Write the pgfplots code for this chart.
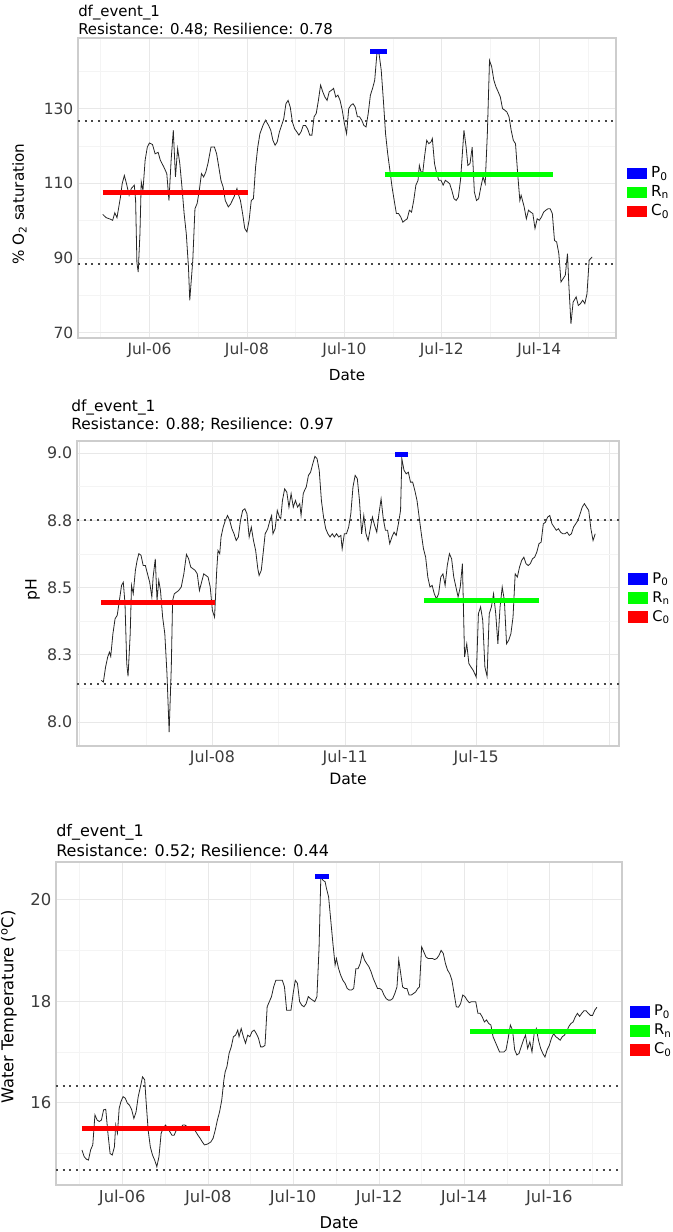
\documentclass[border=0pt]{standalone}
\usepackage{fontspec}
\setmainfont{DejaVu Sans}
\usepackage{pgfplots}
\pgfplotsset{compat=1.18}
\definecolor{pblue}{RGB}{0,0,255}
\definecolor{pgreen}{RGB}{0,255,0}
\definecolor{pred}{RGB}{255,0,0}
\definecolor{gridmaj}{RGB}{232,232,232}
\definecolor{gridmin}{RGB}{244,244,244}
\definecolor{bord}{RGB}{205,205,205}
\definecolor{tickc}{RGB}{60,60,60}
\pgfplotsset{
 panel/.style={
  scale only axis, anchor=south west,
  axis line style={draw=bord, line width=0.9pt},
  grid=both,
  major grid style={draw=gridmaj, line width=0.6pt},
  minor grid style={draw=gridmin, line width=0.45pt},
  major tick length=0pt, minor tick length=0pt,
  tick label style={text=tickc},
  legend style={draw=none, fill=none, at={(1,0.5)}, anchor=west, yshift=-3.5pt, row sep=1.6pt, inner sep=0pt, nodes={inner sep=0.8pt, text height=8.5pt, text depth=2.5pt}},
  legend cell align=left,
  legend image code/.code={\fill[##1] (0pt,-2.4pt) rectangle (11.25pt,2.4pt); \path (13.8pt,0pt);},
 },
 dat/.style={color=black!85, line width=0.6pt, mark=none},
 seg/.style={line width=3.8pt, mark=none},
 dotl/.style={color=black!72, line width=1.5pt, dash pattern=on 1.5pt off 3.5pt, mark=none},
}
\begin{document}
\begin{tikzpicture}
\useasboundingbox (0,0) rectangle (504.75pt,924pt);
% ---------------- Panel 1 ----------------
\begin{axis}[panel, at={(58.5pt,670.5pt)}, width=403.5pt, height=225pt,
 xmin=180, xmax=1422, ymin=68.6, ymax=148.9,
 xtick={345,570,795,1020,1245}, xticklabels={Jul-06,Jul-08,Jul-10,Jul-12,Jul-14},
 minor xtick={232.5,457.5,682.5,907.5,1132.5,1357.5},
 ytick={70,90,110,130}, yticklabels={70,90,110,130}, minor ytick={80,100,120,140},
 tick label style={font=\fontsize{11.6}{13.5}\selectfont},
 legend style={font=\fontsize{11.4}{13.5}\selectfont, xshift=7.75pt}]
\addplot[dat, forget plot] coordinates {(237,101.7)(245,100.8)(255,100.4)(260,100.1)(265,102.1)(270,100.8)(278,106.3)(282,109.9)(287,112.1)(292,109.9)(298,106.8)(303,108.6)(310,109.5)(313,105.4)(316,88.75)(319,86.25)(323,96.5)(326,110.4)(330,108.1)(335,116.2)(340,119.7)(345,120.8)(352,120.4)(358,117.9)(365,118.3)(370,116.2)(378,114.4)(385,112.6)(390,105.4)(395,116.2)(400,124.2)(405,111.7)(410,119.3)(415,115.3)(420,109.0)(425,101.9)(430,96.5)(435,87.6)(438,78.7)(445,89.4)(450,103.2)(455,104.6)(460,108.1)(465,112.6)(470,111.7)(475,113.0)(480,115.3)(487,119.7)(495,119.7)(500,117.9)(505,114.4)(510,110.8)(515,109.0)(520,105.4)(527,103.7)(532,104.4)(540,106.3)(547,108.6)(550,107.2)(555,105.4)(560,101.9)(565,97.9)(570,97.0)(575,100.1)(580,105.4)(585,105.9)(590,114.4)(595,119.7)(600,123.3)(607,125.5)(613,126.9)(620,125.5)(625,124.2)(630,121.5)(635,120.2)(640,121.1)(645,123.8)(650,125.5)(655,127.3)(660,131.3)(665,132.2)(670,130.4)(675,126.4)(680,124.6)(685,123.8)(690,122.9)(695,123.8)(700,125.5)(705,125.5)(710,124.6)(715,122.9)(720,122.9)(725,127.8)(730,128.7)(735,132.2)(740,136.3)(745,134.5)(750,133.1)(755,132.2)(760,134.5)(765,134.9)(770,135.4)(775,133.1)(780,133.6)(785,132.2)(790,129.6)(795,126.0)(800,123.3)(805,130.0)(810,130.9)(815,131.3)(820,130.4)(825,127.8)(830,127.8)(835,126.9)(840,125.5)(845,125.1)(850,128.7)(855,133.6)(860,135.4)(865,137.6)(870,144.7)(875,144.7)(880,140.3)(885,132.2)(890,123.3)(895,117.9)(900,113.5)(905,109.0)(910,105.4)(915,101.9)(920,101.9)(925,101.0)(930,99.6)(935,100.1)(940,100.5)(945,102.8)(950,102.3)(955,105.4)(960,109.5)(965,110.8)(968,114.8)(972,113.0)(976,113.0)(980,117.1)(985,121.5)(990,120.6)(995,121.1)(998,122.0)(1003,115.3)(1008,112.6)(1013,110.8)(1018,110.8)(1023,109.5)(1028,110.8)(1033,110.4)(1038,109.9)(1043,108.1)(1048,105.9)(1053,105.4)(1058,106.3)(1063,110.8)(1066,115.7)(1071,124.2)(1076,119.7)(1080,114.8)(1085,115.3)(1090,119.7)(1095,107.7)(1100,105.4)(1105,105.9)(1110,109.0)(1115,111.7)(1120,109.9)(1125,123.3)(1130,142.9)(1135,141.2)(1140,137.6)(1145,135.8)(1150,134.5)(1155,133.1)(1160,130.0)(1165,129.6)(1170,129.1)(1175,127.8)(1180,124.2)(1185,121.5)(1190,120.6)(1195,112.6)(1200,105.4)(1203,106.8)(1210,103.7)(1215,100.5)(1220,102.8)(1225,102.3)(1230,101.9)(1235,97.9)(1240,100.5)(1245,100.1)(1250,101.0)(1255,102.3)(1260,102.8)(1265,103.2)(1270,103.2)(1275,101.9)(1280,94.7)(1285,94.3)(1290,91.2)(1295,83.6)(1300,84.5)(1305,85.4)(1310,91.2)(1313,83.1)(1318,72.4)(1323,78.2)(1330,79.6)(1335,77.3)(1340,77.8)(1345,78.7)(1350,77.8)(1355,80.4)(1360,89.4)(1367,90.3)};
\addplot[dotl, forget plot] coordinates {(180,126.7)(1422,126.7)};
\addplot[dotl, forget plot] coordinates {(180,88.5)(1422,88.5)};
\addplot[seg, color=pblue] coordinates {(855,145.4)(893,145.4)};
\addlegendentry{P\textsubscript{0}}
\addplot[seg, color=pgreen] coordinates {(888,112.3)(1277,112.3)};
\addlegendentry{R\textsubscript{n}}
\addplot[seg, color=pred] coordinates {(237,107.6)(573,107.6)};
\addlegendentry{C\textsubscript{0}}
\end{axis}
% ---------------- Panel 2 ----------------
\begin{axis}[panel, at={(57.75pt,364.5pt)}, width=406.5pt, height=228.75pt,
 xmin=177, xmax=1430, ymin=7.911, ymax=9.045,
 xtick={183,490,797,1100,1408}, xticklabels={,Jul-08,Jul-11,Jul-15,},
 minor xtick={337,643,950,1254},
 ytick={8,8.25,8.5,8.75,9}, yticklabels={8.0,8.3,8.5,8.8,9.0}, minor ytick={8.125,8.375,8.625,8.875},
 tick label style={font=\fontsize{11.9}{13.9}\selectfont},
 legend style={font=\fontsize{11}{13}\selectfont, xshift=6.5pt}]
\addplot[dat, forget plot] coordinates {(233,8.155)(238,8.149)(243,8.204)(248,8.242)(252,8.260)(255,8.244)(260,8.328)(265,8.384)(270,8.397)(275,8.452)(280,8.508)(284,8.520)(288,8.440)(292,8.217)(295,8.170)(300,8.328)(303,8.508)(307,8.477)(312,8.564)(316,8.601)(320,8.626)(325,8.620)(330,8.582)(335,8.582)(340,8.551)(345,8.520)(350,8.465)(353,8.539)(358,8.607)(362,8.452)(366,8.527)(370,8.489)(375,8.390)(380,8.328)(385,8.180)(390,7.963)(395,8.204)(398,8.452)(402,8.477)(407,8.483)(412,8.489)(418,8.502)(424,8.551)(430,8.623)(435,8.607)(440,8.576)(445,8.570)(450,8.564)(455,8.551)(460,8.489)(465,8.520)(470,8.551)(475,8.545)(480,8.539)(485,8.502)(490,8.415)(495,8.390)(500,8.564)(503,8.638)(507,8.626)(510,8.688)(515,8.725)(520,8.750)(525,8.768)(530,8.750)(535,8.719)(540,8.700)(545,8.675)(550,8.688)(555,8.750)(560,8.787)(565,8.793)(570,8.774)(575,8.688)(580,8.725)(585,8.675)(590,8.638)(595,8.570)(598,8.545)(603,8.564)(608,8.638)(612,8.700)(618,8.719)(623,8.750)(627,8.768)(630,8.700)(635,8.719)(640,8.787)(645,8.762)(648,8.756)(652,8.824)(657,8.867)(662,8.855)(667,8.799)(672,8.849)(677,8.799)(682,8.824)(687,8.799)(692,8.812)(695,8.768)(700,8.849)(703,8.861)(707,8.874)(712,8.917)(717,8.929)(722,8.960)(727,8.988)(732,8.979)(737,8.936)(742,8.824)(747,8.762)(752,8.719)(757,8.700)(762,8.688)(767,8.700)(772,8.688)(777,8.700)(782,8.688)(787,8.694)(790,8.644)(795,8.700)(800,8.700)(805,8.725)(810,8.774)(815,8.874)(820,8.917)(825,8.905)(830,8.824)(835,8.700)(840,8.768)(845,8.700)(850,8.675)(855,8.719)(860,8.762)(865,8.731)(870,8.706)(875,8.774)(880,8.830)(885,8.756)(890,8.713)(895,8.713)(900,8.663)(905,8.688)(910,8.706)(915,8.694)(920,8.737)(925,8.787)(928,8.979)(933,8.936)(938,8.923)(943,8.929)(948,8.892)(953,8.892)(958,8.861)(963,8.824)(968,8.762)(973,8.700)(978,8.644)(983,8.613)(988,8.539)(993,8.502)(998,8.508)(1003,8.477)(1008,8.458)(1013,8.477)(1018,8.539)(1023,8.551)(1028,8.508)(1033,8.582)(1038,8.626)(1043,8.607)(1048,8.539)(1053,8.502)(1058,8.465)(1063,8.502)(1068,8.589)(1073,8.242)(1078,8.291)(1083,8.217)(1088,8.204)(1093,8.192)(1100,8.167)(1105,8.403)(1110,8.428)(1115,8.378)(1120,8.204)(1125,8.170)(1130,8.403)(1135,8.428)(1140,8.477)(1145,8.403)(1150,8.291)(1155,8.428)(1160,8.502)(1165,8.452)(1170,8.291)(1175,8.304)(1180,8.328)(1185,8.390)(1190,8.551)(1195,8.539)(1200,8.576)(1205,8.601)(1210,8.613)(1215,8.589)(1220,8.582)(1225,8.589)(1230,8.607)(1235,8.613)(1240,8.632)(1245,8.663)(1250,8.669)(1255,8.737)(1260,8.743)(1265,8.762)(1270,8.768)(1275,8.737)(1280,8.725)(1285,8.713)(1290,8.719)(1295,8.706)(1300,8.700)(1305,8.700)(1310,8.706)(1315,8.694)(1320,8.700)(1325,8.725)(1330,8.737)(1335,8.750)(1340,8.774)(1345,8.799)(1350,8.812)(1355,8.799)(1360,8.787)(1365,8.719)(1370,8.675)(1375,8.700)};
\addplot[dotl, forget plot] coordinates {(177,8.75)(1430,8.75)};
\addplot[dotl, forget plot] coordinates {(177,8.14)(1430,8.14)};
\addplot[seg, color=pblue] coordinates {(913,8.995)(942,8.995)};
\addlegendentry{P\textsubscript{0}}
\addplot[seg, color=pgreen] coordinates {(980,8.452)(1245,8.452)};
\addlegendentry{R\textsubscript{n}}
\addplot[seg, color=pred] coordinates {(233,8.446)(495,8.446)};
\addlegendentry{C\textsubscript{0}}
\end{axis}
% ---------------- Panel 3 ----------------
\begin{axis}[panel, at={(42pt,35.25pt)}, width=424.5pt, height=242.25pt,
 xmin=130, xmax=1438, ymin=14.38, ymax=20.74,
 xtick={283,482,678,877,1073,1270}, xticklabels={Jul-06,Jul-08,Jul-10,Jul-12,Jul-14,Jul-16},
 minor xtick={184,382,580,777,975,1172,1370},
 ytick={16,18,20}, yticklabels={16,18,20}, minor ytick={15,17,19},
 tick label style={font=\fontsize{12.3}{14.3}\selectfont},
 legend style={font=\fontsize{11}{13}\selectfont, xshift=5.5pt, yshift=-2pt}]
\addplot[dat, forget plot] coordinates {(190,15.07)(195,14.94)(200,14.89)(205,14.87)(210,15.07)(215,15.17)(220,15.76)(225,15.66)(230,15.63)(235,15.66)(240,15.86)(245,15.87)(250,15.40)(255,15.00)(260,14.97)(265,15.13)(268,15.56)(272,15.40)(276,15.89)(280,16.02)(285,16.12)(290,16.09)(295,15.99)(300,15.95)(305,15.86)(310,15.69)(315,15.82)(320,16.12)(325,16.31)(330,16.51)(335,16.45)(338,16.05)(343,15.46)(348,15.13)(353,14.97)(358,14.87)(363,14.74)(368,14.94)(373,15.40)(378,15.50)(383,15.56)(388,15.50)(393,15.43)(398,15.36)(403,15.36)(408,15.46)(413,15.50)(418,15.50)(423,15.56)(428,15.56)(433,15.53)(438,15.50)(443,15.53)(448,15.50)(453,15.43)(458,15.36)(463,15.30)(468,15.23)(473,15.17)(478,15.18)(483,15.20)(488,15.23)(493,15.30)(498,15.46)(503,15.66)(508,15.82)(513,16.05)(518,16.45)(521,16.61)(525,16.71)(530,16.97)(535,17.10)(540,17.30)(545,17.33)(550,17.43)(553,17.30)(558,17.46)(563,17.30)(568,17.17)(573,17.33)(578,17.30)(583,17.40)(588,17.43)(593,17.36)(598,17.27)(603,17.10)(608,17.10)(613,17.13)(618,17.89)(623,17.99)(628,18.09)(633,18.28)(638,18.41)(643,18.41)(648,18.41)(653,18.41)(658,18.28)(663,17.82)(668,17.82)(673,17.82)(678,18.15)(683,18.41)(688,18.35)(693,17.99)(698,17.92)(703,17.89)(708,17.95)(713,18.09)(718,18.05)(723,18.02)(728,17.99)(733,18.09)(738,19.07)(742,20.45)(747,20.38)(752,20.35)(755,20.22)(760,20.05)(765,19.59)(770,19.13)(775,18.71)(778,18.84)(783,18.64)(788,18.51)(793,18.41)(798,18.35)(803,18.25)(808,18.22)(813,18.22)(818,18.25)(823,18.64)(828,18.64)(833,18.74)(838,18.94)(843,18.81)(848,18.74)(853,18.68)(858,18.58)(863,18.45)(868,18.35)(873,18.25)(878,18.25)(883,18.22)(888,18.12)(893,18.05)(898,18.02)(903,18.02)(908,18.05)(913,18.15)(918,18.28)(922,18.82)(926,18.58)(931,18.28)(936,18.25)(941,18.25)(946,18.12)(951,18.12)(956,18.15)(961,18.18)(966,18.25)(970,18.28)(975,19.07)(980,18.97)(985,18.87)(990,18.84)(995,18.84)(1000,18.84)(1005,18.82)(1010,18.84)(1015,18.90)(1020,19.00)(1025,18.94)(1030,18.74)(1035,18.61)(1040,18.54)(1045,18.41)(1050,18.15)(1055,17.89)(1060,17.88)(1065,17.95)(1070,18.12)(1075,18.09)(1080,18.02)(1085,17.97)(1090,17.99)(1095,17.99)(1100,17.99)(1105,17.76)(1110,17.76)(1115,17.69)(1120,17.59)(1125,17.63)(1130,17.56)(1135,17.53)(1140,17.30)(1145,17.20)(1150,17.10)(1155,17.00)(1160,17.00)(1165,17.00)(1170,17.04)(1175,17.27)(1180,17.53)(1185,17.43)(1190,17.04)(1195,16.94)(1200,16.97)(1205,17.10)(1210,17.23)(1215,17.33)(1220,17.07)(1225,17.20)(1230,17.00)(1235,17.36)(1240,17.46)(1245,17.23)(1250,17.07)(1255,16.97)(1260,16.90)(1265,17.04)(1270,17.13)(1275,17.27)(1280,17.36)(1285,17.30)(1290,17.27)(1295,17.23)(1300,17.30)(1305,17.33)(1310,17.40)(1315,17.50)(1320,17.56)(1325,17.59)(1330,17.69)(1335,17.76)(1340,17.70)(1345,17.76)(1350,17.81)(1355,17.81)(1360,17.76)(1365,17.72)(1370,17.72)(1375,17.82)(1380,17.88)};
\addplot[dotl, forget plot] coordinates {(130,16.33)(1438,16.33)};
\addplot[dotl, forget plot] coordinates {(130,14.68)(1438,14.68)};
\addplot[seg, color=pblue] coordinates {(729,20.45)(761,20.45)};
\addlegendentry{P\textsubscript{0}}
\addplot[seg, color=pgreen] coordinates {(1087,17.41)(1378,17.41)};
\addlegendentry{R\textsubscript{n}}
\addplot[seg, color=pred] coordinates {(190,15.50)(486,15.50)};
\addlegendentry{C\textsubscript{0}}
\end{axis}
% ---------------- texts ----------------
\node[anchor=west, font=\fontsize{11.2}{13}\selectfont, inner sep=0pt] at (58.5pt,914.25pt) {df\_event\_1};
\node[anchor=west, font=\fontsize{11.2}{13}\selectfont, inner sep=0pt] at (58.5pt,901.5pt) {Resistance: 0.48; Resilience: 0.78};
\node[font=\fontsize{11.4}{13}\selectfont, inner sep=0pt] at (260.25pt,642.75pt) {Date};
\node[rotate=90, font=\fontsize{11.4}{13}\selectfont, inner sep=0pt] at (14.6pt,771pt) {\% O\textsubscript{2} saturation};
\node[anchor=west, font=\fontsize{11.55}{13.5}\selectfont, inner sep=0pt] at (53.25pt,618.75pt) {df\_event\_1};
\node[anchor=west, font=\fontsize{11.55}{13.5}\selectfont, inner sep=0pt] at (53.25pt,605.25pt) {Resistance: 0.88; Resilience: 0.97};
\node[font=\fontsize{11.7}{13.5}\selectfont, inner sep=0pt] at (261pt,339.75pt) {Date};
\node[rotate=90, font=\fontsize{11.7}{13.5}\selectfont, inner sep=0pt] at (24.45pt,481.5pt) {pH};
\node[anchor=west, font=\fontsize{12}{14}\selectfont, inner sep=0pt] at (42pt,300pt) {df\_event\_1};
\node[anchor=west, font=\fontsize{12}{14}\selectfont, inner sep=0pt] at (42pt,285.75pt) {Resistance: 0.52; Resilience: 0.44};
\node[font=\fontsize{12.2}{14}\selectfont, inner sep=0pt] at (254.25pt,6.75pt) {Date};
\node[rotate=90, font=\fontsize{12.2}{14}\selectfont, inner sep=0pt] at (6.75pt,168.75pt) {Water Temperature (\textsuperscript{o}C)};
\end{tikzpicture}
\end{document}
